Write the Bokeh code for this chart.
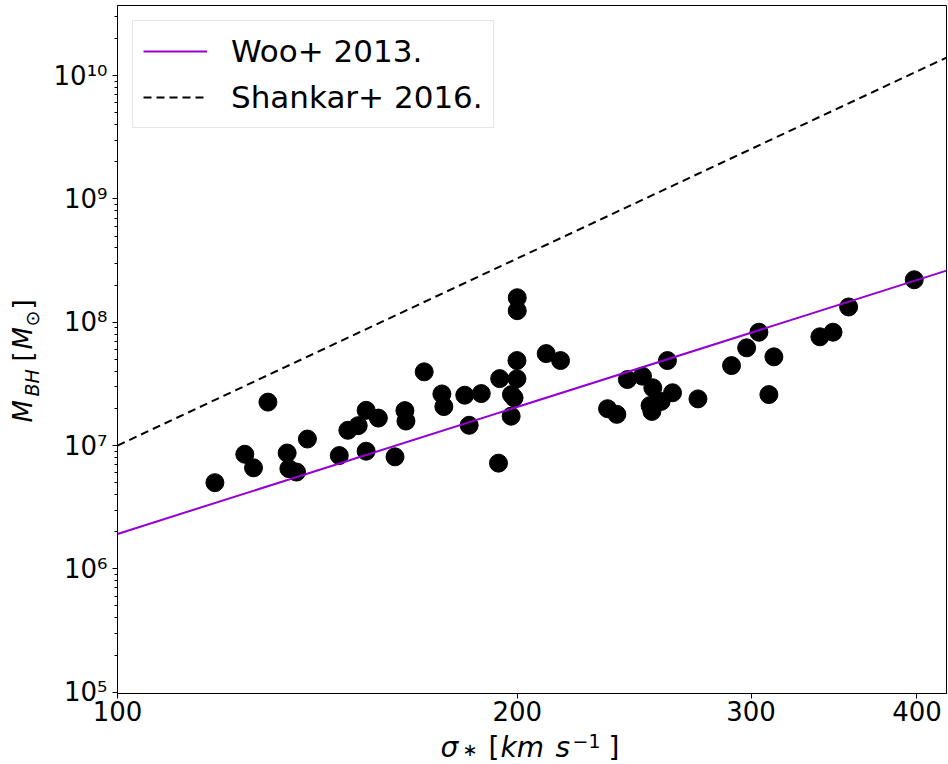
import math
from bokeh.plotting import figure
from bokeh.layouts import row, column
from bokeh.models import (Range1d, FixedTicker, CustomJSTickFormatter, Label,
                          Legend, LegendItem, ColumnDataSource)
from bokeh.embed import file_html
from bokeh.resources import INLINE

# ---------------- data ----------------
sigma = [118.4, 124.7, 126.6, 129.8, 134.2, 134.6, 136.4, 139.0, 146.9, 149.1,
         151.8, 153.9, 153.9, 157.2, 161.8, 164.6, 164.9, 170.2, 175.5, 176.1,
         182.6, 184.0, 187.9, 194.0, 200.0, 200.0, 199.9, 199.9, 198.0, 198.9,
         197.9, 193.6, 210.3, 215.6, 233.9, 237.7, 242.1, 248.5, 253.0, 261.8,
         256.7, 251.8, 252.6, 259.5, 273.6, 290.0, 297.7, 304.1, 312.1, 309.4,
         338.0, 345.8, 355.3, 398.1]
mbh = [5.0e6, 8.5e6, 6.6e6, 2.25e7, 8.7e6, 6.5e6, 6.1e6, 1.13e7, 8.3e6, 1.33e7,
       1.45e7, 1.93e7, 9.0e6, 1.67e7, 8.1e6, 1.92e7, 1.58e7, 3.96e7, 2.62e7, 2.07e7,
       2.56e7, 1.46e7, 2.64e7, 3.49e7, 1.58e8, 1.24e8, 4.89e7, 3.48e7, 2.59e7, 2.44e7,
       1.73e7, 7.2e6, 5.57e7, 4.89e7, 1.99e7, 1.79e7, 3.43e7, 3.65e7, 2.94e7, 2.68e7,
       2.28e7, 2.11e7, 1.89e7, 4.89e7, 2.39e7, 4.45e7, 6.20e7, 8.30e7, 5.24e7, 2.59e7,
       7.62e7, 8.30e7, 1.33e8, 2.21e8]

woo_sigma = [100, 421]
woo_mbh = [1.92e6, 2.62e8]
shankar_sigma = [100, 421]
shankar_mbh = [1.0e7, 1.40e10]

series_labels = ["Woo+ 2013.", "Shankar+ 2016."]
x_ticks = [100, 200, 300, 400]
y_ticks = [1e5, 1e6, 1e7, 1e8, 1e9, 1e10]
y_minor = [m * t for t in [1e4] + y_ticks for m in range(2, 10)]

FONT = "DejaVu Sans"
W, H = 948, 764
YLAB_W = 50           # strip holding the y title
MAIN_H = 731          # main figure height
XLAB_H = H - MAIN_H   # strip holding the x title
F_TOP, F_BOT = 5, 693 # page y of the plot frame

p = figure(width=W - YLAB_W, height=MAIN_H, x_axis_type="log", y_axis_type="log",
           x_range=Range1d(100, 421), y_range=Range1d(9.76e4, 3.7e10),
           output_backend="svg", toolbar_location=None, title=None,
           min_border_left=115 - YLAB_W, min_border_right=2, min_border_top=F_TOP,
           min_border_bottom=MAIN_H - F_BOT)
p.background_fill_color = "white"
p.border_fill_color = "white"
p.outline_line_color = "black"
p.xgrid.visible = False
p.ygrid.visible = False

src = ColumnDataSource(dict(sigma=sigma, mbh=mbh))
p.scatter("sigma", "mbh", source=src, size=18, fill_color="black", line_color="black")
r_woo = p.line(woo_sigma, woo_mbh, line_color="#9400D3", line_width=2)
r_sh = p.line(shankar_sigma, shankar_mbh, line_color="black", line_width=2, line_dash="8 5")

for ax in (p.xaxis[0], p.yaxis[0]):
    ax.axis_line_color = "black"
    ax.major_tick_line_color = "black"
    ax.minor_tick_line_color = "black"
    ax.major_tick_in = 0
    ax.minor_tick_in = 0
    ax.major_tick_out = 5
    ax.minor_tick_out = 3
    ax.major_label_text_font = FONT
    ax.major_label_text_font_size = "26px"
    ax.major_label_text_color = "black"

p.xaxis.ticker = FixedTicker(ticks=x_ticks, minor_ticks=[])
p.xaxis.formatter = CustomJSTickFormatter(code="return tick.toFixed(0);")
p.xaxis.major_label_standoff = 2
p.yaxis.ticker = FixedTicker(ticks=y_ticks, minor_ticks=y_minor)
p.yaxis.formatter = CustomJSTickFormatter(code="""
const sup = {"0":"\u2070","1":"\u00b9","2":"\u00b2","3":"\u00b3","4":"\u2074",
             "5":"\u2075","6":"\u2076","7":"\u2077","8":"\u2078","9":"\u2079","-":"\u207b"};
const e = Math.round(Math.log10(tick));
return "10" + String(e).split("").map(c => sup[c]).join("");
""")
p.yaxis.major_label_standoff = 5

legend = Legend(items=[LegendItem(label=series_labels[0], renderers=[r_woo]),
                       LegendItem(label=series_labels[1], renderers=[r_sh])],
                location="top_left", margin=15, padding=10, spacing=6,
                glyph_width=64, glyph_height=40, label_height=40,
                label_standoff=24, label_text_font=FONT,
                label_text_font_size="31px", label_text_color="black",
                border_line_color="#cccccc", border_line_width=1,
                background_fill_color="white", background_fill_alpha=0.8)
p.add_layout(legend)


def strip(w, h, xr, yr):
    f = figure(width=w, height=h, x_range=xr, y_range=yr,
               x_axis_location=None, y_axis_location=None, title=None,
               toolbar_location=None, output_backend="svg",
               min_border=0, min_border_left=0, min_border_right=0,
               min_border_top=0, min_border_bottom=0)
    f.outline_line_color = None
    f.xgrid.visible = False
    f.ygrid.visible = False
    f.background_fill_color = "white"
    f.border_fill_color = "white"
    return f


# ranges are set so that data coordinates equal page pixel coordinates
ylab = strip(YLAB_W, MAIN_H, Range1d(0, YLAB_W), Range1d(F_BOT, F_TOP))
xlab = strip(W, XLAB_H, Range1d(0, W), Range1d(H, MAIN_H))

MID = 0.31  # distance (in em) from alphabetic baseline to the middle of Bokeh's text box


def piece(fig, txt, cx, base, size, italic=False, rotated=False):
    if rotated:   # text runs upward, glyph tops point left
        x, y, ang = base - MID * size, cx, math.pi / 2
    else:
        x, y, ang = cx, base - MID * size, 0.0
    fig.add_layout(Label(x=x, y=y, text=txt, text_font=FONT,
                         text_font_size=f"{size}px",
                         text_font_style="italic" if italic else "normal",
                         text_color="black", text_align="left",
                         text_baseline="middle", angle=ang, angle_units="rad"))

# x title: sigma_* [km s^-1]
bx = 756
piece(xlab, "\u03c3", 440, bx, 28, italic=True)
piece(xlab, "\u2217", 462, bx - 1, 18)
piece(xlab, "[", 488, bx, 28)
piece(xlab, "km", 500, bx, 28, italic=True)
piece(xlab, "s", 555, bx, 28, italic=True)
piece(xlab, "\u22121", 572, bx - 10, 19)
piece(xlab, "]", 608, bx, 28)

# y title: M_BH [M_sun]
by = 31
piece(ylab, "M", 422, by, 26, italic=True, rotated=True)
piece(ylab, "BH", 396, by + 6, 19, italic=True, rotated=True)
piece(ylab, "[", 361, by, 26, rotated=True)
piece(ylab, "M", 349, by, 26, italic=True, rotated=True)
piece(ylab, "\u2299", 326, by + 6, 19, rotated=True)
piece(ylab, "]", 309, by, 26, rotated=True)

layout = column(row(ylab, p, spacing=0), xlab, spacing=0)
open("out.html", "w").write(file_html(layout, INLINE))
